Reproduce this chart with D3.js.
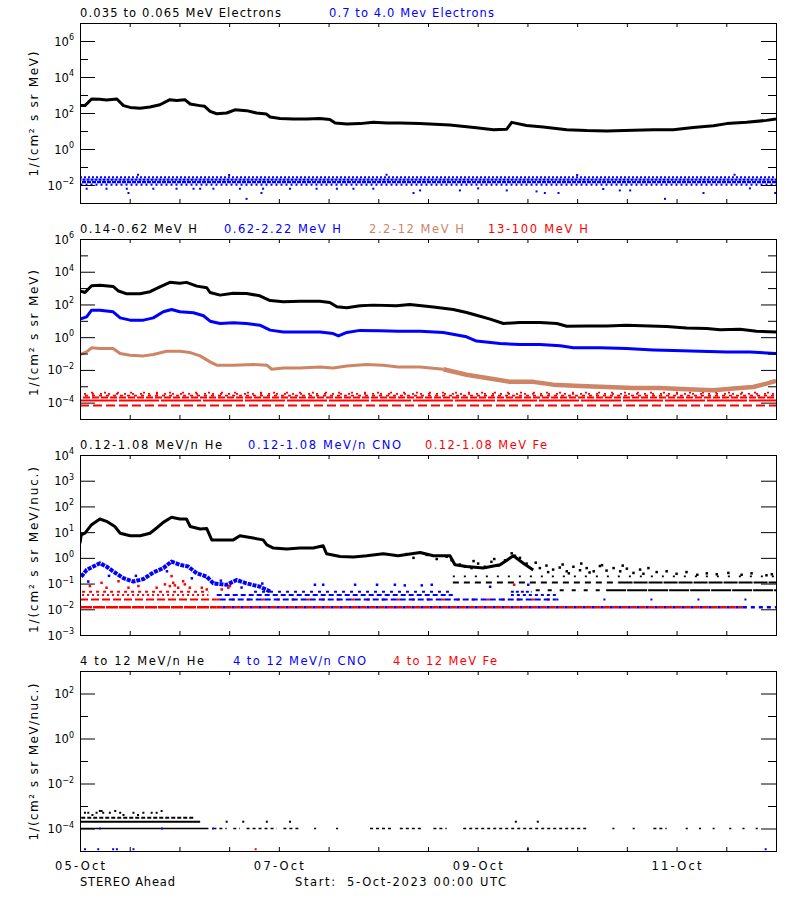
<!DOCTYPE html>
<html>
<head>
<meta charset="utf-8">
<script src="https://cdn.jsdelivr.net/npm/d3@7/dist/d3.min.js"></script>
<style>
html,body{margin:0;padding:0;background:#fff;}
svg{display:block;}
text{font-family:"DejaVu Sans",sans-serif;white-space:pre;}
</style>
</head>
<body>
<script>
// ================= DATA =================
// time: hours since 05-Oct-2023 00:00 UTC ; values: flux
const startTime = "2023-10-05T00:00:00Z";
const endTime   = "2023-10-12T00:00:00Z";
const dayTickHours = [0, 48, 96, 144];
const dayTickLabels = ["05-Oct", "07-Oct", "09-Oct", "11-Oct"];
const footerTexts = ["STEREO Ahead", "Start:  5-Oct-2023 00:00 UTC"];

const panelTitles = [
  ["0.035 to 0.065 MeV Electrons", "0.7 to 4.0 Mev Electrons"],
  ["0.14-0.62 MeV H", "0.62-2.22 MeV H", "2.2-12 MeV H", "13-100 MeV H"],
  ["0.12-1.08 MeV/n He", "0.12-1.08 MeV/n CNO", "0.12-1.08 MeV Fe"],
  ["4 to 12 MeV/n He", "4 to 12 MeV/n CNO", "4 to 12 MeV Fe"]
];
const yTitles = ["1/(cm² s sr MeV)", "1/(cm² s sr MeV)", "1/(cm² s sr MeV/nuc.)", "1/(cm² s sr MeV/nuc.)"];
const yDomains = [[1e-3, 1e7], [1e-5, 1e6], [1e-3, 1e4], [1e-5, 1e3]];
const yMajorExp = [[-2, 0, 2, 4, 6], [-4, -2, 0, 2, 4, 6], [-3, -2, -1, 0, 1, 2, 3, 4], [-4, -2, 0, 2]];
const yMinorExp = [[-1, 1, 3, 5], [-3, -1, 1, 3, 5], [], [-3, -1, 1]];

// Panel 1 : electrons
const electronsLow = [[0,257],[1.2,257],[2.8,603],[4.8,575],[6.4,525],[8.9,603],[10.5,257],[12.1,204],[14.5,182],[16.9,214],
 [19.3,288],[21.7,550],[23.3,501],[25.3,550],[26.6,316],[28.9,257],[30.1,234],[31.4,123],[33.0,91],[35.4,100],[37.4,151],
 [40.2,135],[42.6,100],[45.0,87],[45.9,60],[48.3,50],[51.5,47],[54.7,47],[57.9,50],[60.3,43],[61.6,27.5],[64.4,24.5],
 [67.6,25.7],[70.8,30.2],[74.1,27.5],[77.2,27.5],[82.0,25.7],[89.3,21.4],[95.7,15.1],[99.8,11.7],[103.0,12.6],[104.2,30.2],
 [107.8,20.4],[111.8,16.6],[117.5,11.7],[122.3,10.5],[127.1,10.0],[133.6,11.0],[138.4,11.7],[143.2,11.7],[148.0,15.8],
 [152.9,19.5],[156.1,25.7],[160.9,30.2],[165.7,38.9],[168,46.8]];
const electronsHighBand = [2.7e-2, 2.0e-2, 1.45e-2, 1.05e-2];
const electronsHighOutliers = [[1.6,6.2e-3],[6.4,6.2e-3],[11.3,6.2e-3],[11.7,3.6e-3],[17.7,6.2e-3],[23.3,6.2e-3],[27.4,6.2e-3],
 [29.0,6.2e-3],[32.2,6.2e-3],[38.6,6.2e-3],[40.2,1.7e-3],[43.8,3.6e-3],[44.2,6.2e-3],[50.7,6.2e-3],[57.1,6.2e-3],[62.0,6.2e-3],
 [66.0,6.2e-3],[70.8,6.2e-3],[80.5,3.6e-3],[82.1,5e-3],[91.7,5e-3],[96.1,6.5e-3],[103,5e-3],[110.2,4.4e-3],[112.2,3.6e-3],
 [115.5,3.6e-3],[126.3,6e-3],[130.3,5e-3],[132.8,5e-3],[141.2,1.7e-3],[150.5,3.6e-3],[161.7,6.5e-3],[167.8,3.6e-3],
 [14,3.7e-2],[36,3.6e-2],[74,3.7e-2],[120,3.6e-2],[158,3.7e-2]];

// Panel 2 : protons
const protonsLow = [[0,661],[1.2,537],[2.8,1380],[4.8,1514],[8.0,1259],[9.3,661],[11.3,447],[14.5,447],[16.9,603],[19.3,1202],
 [21.7,2239],[24.1,1950],[25.7,2239],[28.2,1318],[30.6,1047],[31.4,537],[33.8,372],[37.0,490],[40.2,468],[43.4,339],[45.9,174],
 [49.1,145],[53.1,158],[57.9,158],[60.3,132],[62.0,72],[64.4,63],[67.6,83],[70.8,91],[76.4,83],[79.6,100],[85.3,69],[90.1,49],
 [93.3,32],[95.7,22],[99.0,12.6],[102.2,6.9],[106.2,7.9],[111.0,7.9],[115.1,6.9],[117.5,4.7],[122.3,4.9],[127.1,4.9],[131.9,5.4],
 [137.6,4.9],[141.6,4.5],[146.4,3.7],[151.3,3.4],[154.5,2.8],[159.3,3.1],[163.3,2.3],[168,2.1]];
const protonsMid = [[0,12.6],[1.6,17.4],[2.8,44.7],[4.8,44.7],[8.0,35.5],[9.7,15.1],[12.1,11.0],[15.3,11.0],[17.7,15.1],[20.1,35.5],
 [22.1,49],[24.1,35.5],[27.4,30.9],[29.8,20.4],[31.4,9.5],[33.8,6.9],[37.0,7.6],[40.2,6.9],[43.4,5.4],[45.9,2.7],[49.1,2.1],
 [53.1,2.1],[57.9,2.1],[61.1,1.66],[62.4,1.2],[64.4,1.95],[67.6,2.6],[72.4,2.45],[76.8,2.3],[82.1,2.3],[87.7,1.95],[93.3,1.05],
 [95.7,0.58],[101.4,0.41],[106.2,0.355],[111.0,0.355],[115.9,0.295],[119.1,0.224],[125.5,0.224],[131.9,0.204],[138.4,0.166],
 [143.2,0.151],[149.6,0.138],[156.1,0.126],[161.7,0.126],[168,0.100]];
const protonsHigh = [[0,0.087],[1.6,0.126],[2.8,0.224],[4.8,0.204],[8.0,0.204],[9.7,0.100],[12.1,0.079],[15.3,0.072],[17.7,0.087],
 [20.9,0.138],[24.1,0.138],[26.6,0.115],[29.0,0.072],[31.4,0.031],[33.0,0.0195],[37.0,0.0195],[41.8,0.0214],[45.1,0.0195],
 [46.3,0.011],[49.1,0.0132],[53.1,0.0132],[57.9,0.0151],[61.1,0.0132],[64.4,0.0174],[69.2,0.0214],[73.2,0.0195],[76.8,0.0151],
 [82.1,0.0151],[87.7,0.011],[93.3,0.0051],[98.2,0.0032],[103.8,0.00186],[109.4,0.00186],[114.2,0.00126],[120.7,0.00105],
 [127.1,0.00091],[133.5,0.00079],[140.0,0.00079],[146.4,0.00066],[152.9,0.00058],[157.7,0.00072],[162.5,0.00091],
 [165.7,0.00145],[168,0.00214]];
const protonsVeryHighLevels = [6.8e-5, 1.36e-4, 2.04e-4, 2.72e-4, 3.4e-4, 4.08e-4];

// Panel 3 : low energy ions
const heliumLow = [[0,3.7],[0.3,7.9],[1.2,9.1],[2.8,19.5],[4.8,32.4],[6.4,26.3],[8.4,16.6],[9.7,9.1],[12.1,7.2],[14.5,7.2],
 [16.9,9.1],[18.5,14.5],[20.1,24],[22.1,38],[24.1,32.4],[25.7,32.4],[26.6,16.6],[29.0,13.2],[30.6,13.8],[31.8,5.0],[33.8,5.0],
 [37.0,5.0],[38.6,7.2],[41.8,5.9],[44.2,5.0],[45.1,3.2],[46.7,2.4],[49.9,2.2],[53.1,2.4],[56.3,2.4],[58.7,2.95],[59.5,1.45],
 [62.8,1.12],[66.0,1.07],[69.2,1.2],[73.2,1.45],[76.8,1.2],[82.1,1.62],[85.3,1.2],[89.3,1.2],[90.5,0.54],[93.3,0.46],
 [97.3,0.40],[101.4,0.54],[104.6,1.2],[107.0,0.62],[109.4,0.34]];
const heliumLowScatter = [[78.8,1.4],[80.5,1.0],[83.7,1.3],[86.1,0.9],[88.5,1.1],[89.7,0.8],[91.7,0.55],[92.9,0.45],[94.5,0.40],
 [96.1,0.6],[97.7,0.45],[99.3,0.7],[101,0.5],[102.6,0.8],[104.2,1.5],[105,1.2],[106.2,1.0],[107.8,0.6],[111,0.4],[112.6,0.5],
 [114.2,0.35],[115.8,0.42],[117.5,0.3],[119.1,0.45],[120.7,0.33],[122.3,0.4],[124,0.3],[125.5,0.48],[127.1,0.32],[128.8,0.4],
 [130.4,0.3],[132,0.38],[133.6,0.26],[135.2,0.35],[137.2,0.4],[139.2,0.28],[141.6,0.3],[144,0.24],[146.4,0.28],[149,0.22],
 [151.3,0.25],[153.7,0.23],[156.5,0.26],[159.7,0.22],[162.1,0.25],[165.7,0.21],[167,0.23],[116.5,0.55],[121,0.6],[126,0.52],
 [110,0.65],[113,0.28],[118,0.25],[123,0.27],[131,0.5],[136,0.24],[100,0.9],[95,0.75]];
const heliumLowLevels = [0.055, 0.11, 0.19];
const cnoLow = [[0.3,0.186],[1.6,0.34],[3.2,0.46],[4.8,0.62],[6.4,0.46],[8.4,0.27],[10.5,0.162],[12.9,0.12],[15.3,0.15],
 [17.7,0.27],[20.1,0.40],[22.1,0.72],[24.1,0.54],[26.1,0.46],[28.2,0.25],[30.6,0.186],[32.2,0.102],[35.4,0.089],[37.8,0.138],
 [40.2,0.102],[43.4,0.076],[45.9,0.049]];
const cnoLowScatter = [[56.7,0.09],[58.7,0.09],[66.4,0.09],[71.7,0.09],[76,0.09],[78.4,0.085],[82.5,0.085],[84.9,0.09],
 [99,0.075],[108.2,0.09],[2,0.12],[7,0.2],[13.5,0.2],[21,0.3],[27,0.16],[34,0.13],[39,0.07],[44,0.1]];
const ionLowLevels = [1.2e-2, 2.4e-2, 3.6e-2, 4.8e-2];
const feLowScatter = [[2.4,0.080],[5.2,0.107],[6.4,0.069],[9.3,0.123],[11.7,0.069],[14.1,0.080],[18.5,0.069],[20.5,0.093],
 [21.7,0.080],[22.1,0.195],[22.5,0.107],[22.9,0.085],[23.7,0.069],[24.9,0.123],[25.3,0.093],[26.5,0.069],[29.4,0.069],
 [30.6,0.059],[34.2,0.059],[35.8,0.069],[36.2,0.080],[104.8,0.09]];

// Panel 4 : high energy ions
const heliumHighLevels = [1e-4, 2e-4, 3e-4];
const heliumHighSparseSpans = [[32.2,35.4],[37,38.6],[40.2,47.5],[49.1,53.1],[56.5,57],[61.8,62.3],[70,75.6],[77.2,82.9],
 [85.3,88.5],[92.5,122.3],[128.5,129],[133.4,133.9],[138.4,141.6],[146.2,146.7],[149.4,149.9],[152.7,153.2],[156.7,157.2],
 [159.9,160.4],[163.1,163.6]];
const heliumHighScatter = [[1.2,5e-4],[2.0,5e-4],[4.0,5e-4],[4.8,6e-4],[5.2,6e-4],[5.6,5e-4],[7.2,5e-4],[8.5,6e-4],[9.7,5e-4],
 [12.9,5e-4],[15.3,5e-4],[17.3,5e-4],[18.5,5e-4],[19.7,6e-4],[3,4e-4],[10.5,4e-4],[14,4e-4],
 [35.4,2e-4],[39.4,2e-4],[45.1,2e-4],[50.7,2e-4],[105.2,2e-4],[110.5,2e-4]];
const cnoHighPoints = [[1.2,1.2e-5],[4.4,1.2e-5],[8.0,1.2e-5],[8.9,1.2e-5],[12.9,1.2e-5],[108.1,1.2e-5],[165.5,1.2e-5],
 [4.8,1e-4],[19.8,1e-4],[32.1,1e-4]];
const feHighPoints = [[42.4,1.2e-5]];

// ================= LAYOUT / STYLE =================
const W = 800, H = 900, X0 = 80, X1 = 776, PH = 180;
const tops = [23, 239, 455, 671];
const BLUE = "#0000ff", RED = "#ff0000", BROWN = "#cd8566", BLACK = "#000000";
const titleLayout = [
  [[80,201,BLACK],[329,165,BLUE]],
  [[80,117,BLACK],[224,117,BLUE],[369,95,BROWN],[488,100,RED]],
  [[80,142,BLACK],[248,153,BLUE],[425,122,RED]],
  [[80,124,BLACK],[233,133,BLUE],[393,104,RED]]
];
const yTitleLayout = [[114,125],[333,126],[550,166],[762,157]];

const svg = d3.select("body").append("svg").attr("width", W).attr("height", H);
svg.append("rect").attr("width", W).attr("height", H).attr("fill", "#fff");

const x = d3.scaleUtc().domain([new Date(startTime), new Date(endTime)]).range([X0, X1]);
const t = h => new Date(Date.parse(startTime) + h * 3600e3);
const xTickDates = d3.range(0, 169, 12).map(t);

function buildPanel(i) {
  const top = tops[i], bottom = top + PH;
  const y = d3.scaleLog().domain(yDomains[i]).range([bottom, top]);
  const g = svg.append("g");
  svg.append("clipPath").attr("id", "clip" + i).append("rect")
    .attr("x", X0).attr("y", top).attr("width", X1 - X0).attr("height", PH);
  const plot = g.append("g").attr("clip-path", `url(#clip${i})`);

  const noDomain = s => s.select(".domain").remove();
  g.append("g").attr("transform", `translate(0,${bottom})`)
    .call(d3.axisBottom(x).tickValues(xTickDates).tickSize(-4).tickFormat("")).call(noDomain);
  g.append("g").attr("transform", `translate(0,${top})`)
    .call(d3.axisTop(x).tickValues(xTickDates).tickSize(-4).tickFormat("")).call(noDomain);
  const maj = yMajorExp[i].map(e => Math.pow(10, e));
  const min = yMinorExp[i].map(e => Math.pow(10, e));
  g.append("g").attr("transform", `translate(${X0},0)`)
    .call(d3.axisLeft(y).tickValues(maj).tickSize(-15).tickFormat("")).call(noDomain);
  g.append("g").attr("transform", `translate(${X1},0)`)
    .call(d3.axisRight(y).tickValues(maj).tickSize(-15).tickFormat("")).call(noDomain);
  if (min.length) {
    g.append("g").attr("transform", `translate(${X0},0)`)
      .call(d3.axisLeft(y).tickValues(min).tickSize(-8).tickFormat("")).call(noDomain);
    g.append("g").attr("transform", `translate(${X1},0)`)
      .call(d3.axisRight(y).tickValues(min).tickSize(-8).tickFormat("")).call(noDomain);
  }
  g.selectAll(".tick line").attr("stroke", "#000");
  g.append("rect").attr("x", X0 + 0.5).attr("y", top + 0.5).attr("width", X1 - X0).attr("height", PH)
    .attr("fill", "none").attr("stroke", "#000").attr("stroke-width", 1);
  yMajorExp[i].forEach(e => {
    const tx = g.append("text").attr("x", 74).attr("y", y(Math.pow(10, e)) + 4.5)
      .attr("text-anchor", "end").attr("font-size", 11.5).attr("fill", "#000");
    tx.append("tspan").text("10");
    tx.append("tspan").attr("dy", -5.5).attr("font-size", 8).text(String(e).replace("-", "\u2212"));
  });
  const [cy, len] = yTitleLayout[i];
  g.append("text").attr("transform", `translate(38,${cy}) rotate(-90)`).attr("text-anchor", "middle")
    .attr("font-size", 12).attr("textLength", len).attr("lengthAdjust", "spacing").text(yTitles[i]);
  panelTitles[i].forEach((s, k) => {
    const [tx0, tl, col] = titleLayout[i][k];
    g.append("text").attr("x", tx0).attr("y", top - 6).attr("font-size", 11.5).attr("fill", col)
      .attr("textLength", tl).attr("lengthAdjust", "spacing").text(s);
  });
  return { y, plot };
}

const panels = [0, 1, 2, 3].map(buildPanel);

function drawLine(p, data, color, width, dash) {
  const ln = d3.line().x(d => x(t(d[0]))).y(d => p.y(d[1]));
  p.plot.append("path").datum(data).attr("d", ln).attr("fill", "none").attr("stroke", color)
    .attr("stroke-width", width).attr("stroke-linejoin", "round")
    .attr("stroke-dasharray", dash || null);
}
function drawLevel(p, value, h0, h1, color, width, dash, offset) {
  const ln = d3.line().x(d => x(t(d[0]))).y(d => p.y(d[1]));
  p.plot.append("path").datum([[h0, value], [h1, value]]).attr("d", ln).attr("fill", "none")
    .attr("stroke", color).attr("stroke-width", width)
    .attr("stroke-dasharray", dash || null).attr("stroke-dashoffset", offset || 0);
}
function drawDots(p, data, color, size) {
  p.plot.append("g").selectAll("rect").data(data).join("rect")
    .attr("x", d => x(t(d[0])) - size / 2).attr("y", d => p.y(d[1]) - size / 2)
    .attr("width", size).attr("height", size).attr("fill", color);
}

// ---- Panel 1
{
  const p = panels[0];
  const bandDash = ["2,2", "3,1", "4,1", "2,3"];
  electronsHighBand.forEach((v, k) => drawLevel(p, v, 0, 168, BLUE, 2.2, bandDash[k], k * 1.5));
  drawDots(p, electronsHighOutliers, BLUE, 2);
  drawLine(p, electronsLow, BLACK, 3);
}
// ---- Panel 2
{
  const p = panels[1];
  const redDash = ["9,4", "40,2", "7,2", "3,4", "2,6", "2,11"];
  const redW = [2, 2, 2, 1.8, 1.8, 1.8];
  protonsVeryHighLevels.forEach((v, k) => drawLevel(p, v, 0, 168, RED, redW[k], redDash[k], k * 3));
  drawLine(p, protonsHigh.filter(d => d[0] <= 92), BROWN, 3);
  drawLine(p, protonsHigh.filter(d => d[0] >= 87), BROWN, 4.5);
  drawLine(p, protonsMid, BLUE, 3);
  drawLine(p, protonsLow, BLACK, 3);
}
// ---- Panel 3
{
  const p = panels[2];
  const [n1, n2, n3, n4] = ionLowLevels;
  drawLevel(p, n1, 0, 33, RED, 2.5, "12,1");
  drawLevel(p, n1, 33, 160, RED, 2.5, "6,3");
  drawLevel(p, n2, 0, 33, RED, 2.2, "8,3");
  drawLevel(p, n2, 33, 115, RED, 2.2, "3,12");
  drawLevel(p, n3, 0.5, 31, RED, 1.8, "2,3");
  drawLevel(p, n4, 0.5, 31, RED, 1.8, "3,4");
  drawLevel(p, n1, 33, 160, BLUE, 2.5, "3,6", -6);
  drawLevel(p, n1, 160, 168, BLUE, 2.5, "4,4");
  drawLevel(p, n2, 33, 115, BLUE, 2.2, "6,3", -3);
  drawLevel(p, n2, 115, 168, BLUE, 2.2, "2,45");
  drawLevel(p, n3, 33, 90, BLUE, 1.8, "5,3");
  drawLevel(p, n3, 104, 115, BLUE, 1.8, "3,3");
  drawLevel(p, n4, 42, 90, BLUE, 1.8, "3,5");
  drawLevel(p, n4, 104, 109, BLUE, 1.8, "3,2");
  drawDots(p, feLowScatter, RED, 2.5);
  drawDots(p, cnoLowScatter, BLUE, 2.5);
  drawLine(p, cnoLow, BLUE, 4, "4,1");
  const [h1, h2, h3] = heliumLowLevels;
  drawLevel(p, h2, 90, 130, BLACK, 2.2, "6,5");
  drawLevel(p, h2, 130, 168, BLACK, 2.2, "14,1");
  drawLevel(p, h1, 110, 127, BLACK, 2.2, "4,8");
  drawLevel(p, h1, 127, 168, BLACK, 2.2, "20,1");
  drawLevel(p, h3, 90, 168, BLACK, 1.8, "2,9");
  drawDots(p, heliumLowScatter, BLACK, 2.5);
  drawLine(p, heliumLow, BLACK, 3);
}
// ---- Panel 4
{
  const p = panels[3];
  const [l1, l2, l3] = heliumHighLevels;
  drawLevel(p, l1, 0, 31, BLACK, 1.5);
  heliumHighSparseSpans.forEach(([a, b]) => drawLevel(p, l1, a, b, BLACK, 1.5, "3,3"));
  drawLevel(p, l2, 0, 29, BLACK, 1.8);
  drawLevel(p, l3, 0.3, 27.4, BLACK, 1.8, "4,2");
  drawDots(p, heliumHighScatter, BLACK, 2);
  drawDots(p, cnoHighPoints, BLUE, 2);
  drawDots(p, feHighPoints, RED, 2);
}

// ---- bottom labels
const bottomY = tops[3] + PH;
dayTickHours.forEach((h, k) => {
  svg.append("text").attr("x", x(t(h))).attr("y", bottomY + 19).attr("text-anchor", "middle")
    .attr("font-size", 11.5).attr("textLength", 50).attr("lengthAdjust", "spacing").text(dayTickLabels[k]);
});
const footerLayout = [[80, 95], [295, 211]];
footerTexts.forEach((s, k) => {
  svg.append("text").attr("x", footerLayout[k][0]).attr("y", bottomY + 35).attr("font-size", 11.5)
    .attr("textLength", footerLayout[k][1]).attr("lengthAdjust", "spacing").text(s);
});
</script>
</body>
</html>
